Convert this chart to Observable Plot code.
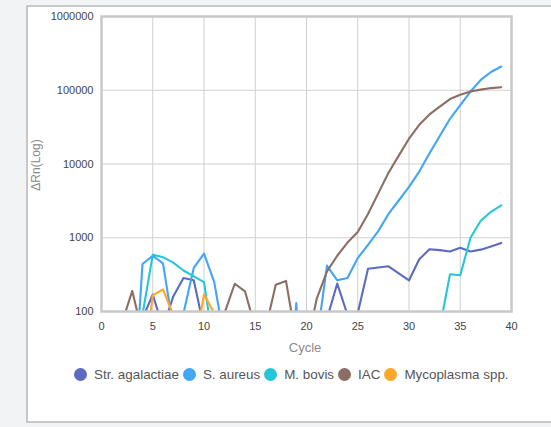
<!DOCTYPE html>
<html>
<head>
<meta charset="utf-8">
<script src="https://cdn.jsdelivr.net/npm/d3@7"></script>
<script src="https://cdn.jsdelivr.net/npm/@observablehq/plot@0.6"></script>
<style>
  html, body { margin: 0; padding: 0; }
  body { width: 551px; height: 427px; background: #f2f3f5; position: relative; overflow: hidden; font-family: "Liberation Sans", Arial, sans-serif; }
  #card { position: absolute; left: 26px; top: 5px; width: 600px; height: 414px; background: #fff; border: 2px solid #c8c8c8; }
  #chart { position: absolute; left: 0; top: 0; }
  .title-x { position: absolute; left: 305px; top: 347px; transform: translate(-50%, -50%); font-size: 13px; color: #8a8a8a; white-space: nowrap; }
  .title-y { position: absolute; left: 36px; top: 165px; transform: translate(-50%, -50%) rotate(-90deg); font-size: 12px; color: #8a8a8a; white-space: nowrap; }
  #legend { position: absolute; left: 74px; top: 367px; display: flex; align-items: center; font-size: 13.4px; color: #555; white-space: nowrap; }
  .item { display: flex; align-items: center; margin-right: 4px; }
  .dot { width: 13px; height: 13px; border-radius: 50%; margin-right: 7px; }
</style>
</head>
<body>
<div id="card"></div>
<div id="chart"></div>
<div class="title-y">ΔRn(Log)</div>
<div class="title-x">Cycle</div>
<div id="legend"></div>
<script>
const cycles = [1,2,3,4,5,6,7,8,9,10,11,12,13,14,15,16,17,18,19,20,21,22,23,24,25,26,27,28,29,30,31,32,33,34,35,36,37,38,39];

const seriesNames = ["Str. agalactiae", "S. aureus", "M. bovis", "IAC", "Mycoplasma spp."];
const seriesColors = ["#5c6bc0", "#42a5f5", "#26c6da", "#8d6e63", "#ffa726"];

const strAgalactiae = [20,30,25,80,170,60,160,285,265,60,30,20,25,20,25,20,25,20,25,20,30,80,240,90,95,380,395,410,330,265,510,700,680,650,730,650,690,760,850];
const sAureus = [20,30,3,440,570,450,60,95,390,610,250,40,20,15,20,25,20,2,130,2,40,420,265,285,530,800,1230,2100,3200,4900,7900,14000,24000,41000,63000,96000,138000,177000,210000];
const mBovis = [10,15,5,90,590,545,460,360,300,250,30,20,15,20,15,20,15,20,15,20,15,20,15,20,15,20,15,20,15,20,15,20,60,320,310,1000,1700,2250,2750];
const iac = [30,70,190,50,30,25,30,40,35,30,50,95,238,188,60,58,230,260,40,32,150,350,570,860,1200,2100,4000,7600,13000,22000,34000,47000,60000,76000,87000,96000,102000,107000,110000];
const mycoplasma = [10,15,10,13,165,200,90,40,29,170,95,30,20,15,20,15,20,15,20,15,20,15,20,15,20,15,20,15,20,15,20,15,20,15,20,15,20,15,20];

const xTicks = [0,5,10,15,20,25,30,35,40];
const yTicks = [100,1000,10000,100000,1000000];
const yTickLabels = ["100","1000","10000","100000","1000000"];

const seriesValues = [strAgalactiae, sAureus, mBovis, iac, mycoplasma];
const table = seriesNames.flatMap((name, i) =>
  cycles.map((c, j) => ({series: name, cycle: c, value: seriesValues[i][j]}))
);

const chart = Plot.plot({
  width: 551,
  height: 340,
  marginLeft: 101,
  marginRight: 40,
  marginTop: 16,
  marginBottom: 29,
  style: { fontFamily: "'Liberation Sans', Arial, sans-serif", fontSize: "11px", color: "#444", background: "transparent", overflow: "visible" },
  x: { domain: [0, 40] },
  y: { type: "log", domain: [100, 1000000] },
  color: { domain: seriesNames, range: seriesColors },
  marks: [
    Plot.gridX(xTicks, { stroke: "#cfcfcf", strokeOpacity: 1, strokeWidth: 1 }),
    Plot.gridY(yTicks, { stroke: "#cfcfcf", strokeOpacity: 1, strokeWidth: 1 }),
    Plot.line(table, { x: "cycle", y: "value", z: "series", stroke: "series", strokeWidth: 2.1, clip: true }),
    Plot.frame({ stroke: "#c8c8c8", strokeWidth: 2.5 }),
    Plot.axisX({ ticks: xTicks, tickSize: 0, tickPadding: 11, label: null, tickFormat: d => String(d) }),
    Plot.axisY({ ticks: yTicks, tickSize: 0, tickPadding: 8, label: null, tickFormat: d => yTickLabels[yTicks.indexOf(d)] })
  ]
});
document.getElementById("chart").appendChild(chart);

const legend = document.getElementById("legend");
seriesNames.forEach((name, i) => {
  const item = document.createElement("div");
  item.className = "item";
  const dot = document.createElement("span");
  dot.className = "dot";
  dot.style.background = seriesColors[i];
  const label = document.createElement("span");
  label.textContent = name;
  item.appendChild(dot);
  item.appendChild(label);
  legend.appendChild(item);
});
</script>
</body>
</html>
